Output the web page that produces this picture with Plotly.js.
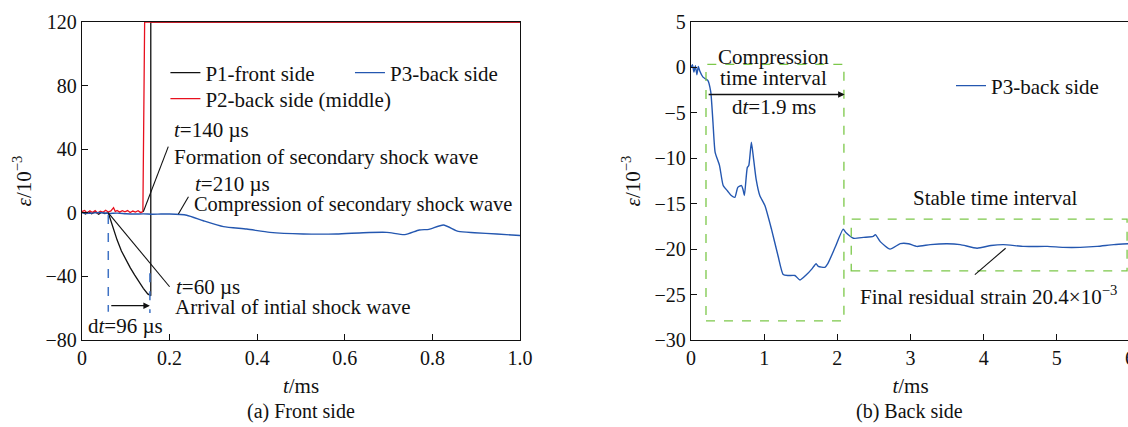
<!DOCTYPE html>
<html>
<head>
<meta charset="utf-8">
<script src="https://cdn.plot.ly/plotly-3.0.1.min.js"></script>
<style>
html,body{margin:0;padding:0;overflow:hidden;background:#fff;}
#chart{width:1140px;height:427px;}
</style>
</head>
<body>
<div id="chart"></div>
<script>
// ---- (a) Front side ----
const p1T = [0, 0.008, 0.015, 0.022, 0.03, 0.038, 0.045, 0.052, 0.06, 0.07, 0.08, 0.09, 0.1, 0.11, 0.12, 0.13, 0.14, 0.15, 0.155, 0.157, 0.157, 1.0];
const p1V = [0.5, -0.8, 0.6, -0.6, 0.7, -0.9, 0.4, -0.5, 0, -9, -17, -24, -29.5, -34.5, -39, -43.5, -47.5, -51, -52.2, -52.2, 120, 120];

const p2T = [0, 0.006, 0.012, 0.018, 0.024, 0.03, 0.036, 0.042, 0.048, 0.054, 0.06, 0.066, 0.072, 0.076, 0.08, 0.086, 0.092, 0.098, 0.104, 0.11, 0.116, 0.122, 0.128, 0.134, 0.139, 0.143, 1.0];
const p2V = [0.8, 1.5, -0.3, 1.2, 0.2, 1.4, -0.2, 1.0, 0.3, 1.6, 0.5, 1.2, 3.2, 0.8, 1.5, 0.4, 1.3, 0.6, 1.4, 0.2, 1.1, 0.5, 1.3, 0.1, 0.8, 120, 120];

const p3aT = [0, 0.02, 0.04, 0.06, 0.08, 0.1, 0.12, 0.14, 0.16, 0.18, 0.2, 0.239, 0.277, 0.323, 0.376, 0.429, 0.505, 0.581, 0.642, 0.696, 0.737, 0.77, 0.792, 0.825, 0.859, 0.896, 0.947, 1.0];
const p3aV = [0, -0.3, 0.2, -0.4, -0.2, -0.6, -0.8, -0.7, -0.9, -0.8, -0.75, -1.5, -5, -8.7, -10.2, -12.3, -13.3, -13.3, -12.5, -12.3, -13.7, -10.8, -10.4, -7.7, -11.7, -12.5, -13.3, -14.3];

// ---- (b) Back side ----
const p3bT = [0, 0.02, 0.04, 0.06, 0.08, 0.1, 0.12, 0.164, 0.23, 0.27, 0.30, 0.33, 0.39, 0.44, 0.5, 0.55, 0.6, 0.64, 0.69, 0.71, 0.73, 0.77, 0.79, 0.825, 0.85, 0.89, 0.94, 1.01, 1.1, 1.19, 1.26, 1.33, 1.42, 1.49, 1.58, 1.65, 1.71, 1.74, 1.83, 1.87, 1.97, 2.08, 2.12, 2.22, 2.36, 2.49, 2.52, 2.59, 2.72, 2.86, 2.97, 3.09, 3.27, 3.5, 3.68, 3.91, 4.1, 4.27, 4.55, 4.87, 5.09, 5.32, 5.55, 5.78, 6.0];
const p3bV = [0, 0.3, -0.5, 0.2, -0.8, 0.1, -0.4, -1.07, -1.43, -2.7, -6.0, -9.35, -10.8, -13.0, -13.6, -14.1, -14.3, -13.2, -13.0, -13.4, -14.1, -11.0, -10.8, -8.24, -9.7, -12.3, -14.1, -15.2, -17.8, -20.75, -22.8, -22.9, -22.9, -23.4, -22.8, -22.2, -21.6, -21.9, -22.0, -21.6, -19.8, -17.8, -18.2, -18.8, -18.7, -18.6, -18.4, -19.2, -20.0, -19.4, -19.4, -19.7, -19.5, -19.4, -19.5, -19.9, -19.6, -19.5, -19.7, -19.7, -19.8, -19.8, -19.7, -19.5, -19.4];

const leftXTicks = [0, 0.2, 0.4, 0.6, 0.8, 1.0];
const leftXLabels = ['0', '0.2', '0.4', '0.6', '0.8', '1.0'];
const leftYTicks = [-80, -40, 0, 40, 80, 120];
const rightXTicks = [0, 1, 2, 3, 4, 5, 6];
const rightYTicks = [-30, -25, -20, -15, -10, -5, 0, 5];

const FONT = 'Liberation Serif, Times New Roman, serif';
const BLUE = '#2457b0';
const RED = '#e8101e';
const GREEN = '#7cc84a';
const FS = 21;

const traces = [
  {x: p1T, y: p1V, xaxis: 'x', yaxis: 'y', mode: 'lines', name: 'P1-front side', showlegend: true,
   line: {color: '#111', width: 1.3}, legend: 'legend'},
  {x: p2T, y: p2V, xaxis: 'x', yaxis: 'y', mode: 'lines', name: 'P2-back side (middle)', showlegend: true,
   line: {color: RED, width: 1.3}, legend: 'legend4'},
  {x: p3aT, y: p3aV, xaxis: 'x', yaxis: 'y', mode: 'lines', name: 'P3-back side', showlegend: true,
   line: {color: BLUE, width: 1.4, shape: 'spline', smoothing: 0.6}, legend: 'legend2'},
  {x: p3bT, y: p3bV, xaxis: 'x2', yaxis: 'y2', mode: 'lines', name: 'P3-back side', showlegend: true,
   line: {color: BLUE, width: 1.4, shape: 'spline', smoothing: 0.5}, legend: 'legend3'}
];

const axisCommon = {
  showline: true, linecolor: '#111', linewidth: 1.3, mirror: true,
  ticks: 'inside', ticklen: 6, tickcolor: '#111', tickwidth: 1.2,
  showgrid: false, zeroline: false,
  tickfont: {family: FONT, size: 20, color: '#111'}
};

const legendCommon = {
  font: {family: FONT, size: FS, color: '#111'},
  bgcolor: 'rgba(0,0,0,0)', borderwidth: 0, xanchor: 'left', yanchor: 'middle',
  xref: 'paper', yref: 'paper', visible: true
};

const ann = [];
function txt(xref, yref, x, y, text, xanchor, size) {
  ann.push({xref: xref, yref: yref, x: x, y: y, text: text, showarrow: false,
    xanchor: xanchor || 'center', yanchor: 'middle',
    font: {family: FONT, size: size || FS, color: '#111'}});
}
// left annotations
txt('x', 'y', 0.205, 52.1, '<i>t</i>=140 µs', 'left');
txt('x', 'y', 0.205, 35.1, 'Formation of secondary shock wave', 'left');
txt('x', 'y', 0.253, 18.1, '<i>t</i>=210 µs', 'left');
txt('x', 'y', 0.251, 5.5, 'Compression of secondary shock wave', 'left', 20.4);
txt('x', 'y', 0.21, -46.7, '<i>t</i>=60 µs', 'left');
txt('x', 'y', 0.208, -59.4, 'Arrival of intial shock wave', 'left');
txt('x', 'y', 0.1, -71.2, 'd<i>t</i>=96 µs', 'center');
ann.push({xref: 'x', yref: 'y', x: 0.155, y: -58.4, axref: 'x', ayref: 'y', ax: 0.06, ay: -58.4,
  showarrow: true, arrowhead: 2, arrowsize: 1, arrowwidth: 1.3, arrowcolor: '#111', text: ' '});
// right annotations
txt('x2', 'y2', 1.13, 1.2, 'Compression', 'center');
txt('x2', 'y2', 1.13, -1.2, 'time interval', 'center');
txt('x2', 'y2', 1.13, -4.4, 'd<i>t</i>=1.9 ms', 'center');
txt('x2', 'y2', 4.16, -14.35, 'Stable time interval', 'center');
txt('x2', 'y2', 4.07, -25.05, 'Final residual strain 20.4×10<sup>−3</sup>', 'center');
ann.push({xref: 'x2', yref: 'y2', x: 2.1, y: -2.98, axref: 'x2', ayref: 'y2', ax: 0.2, ay: -2.98,
  showarrow: true, arrowhead: 2, arrowsize: 1, arrowwidth: 1.3, arrowcolor: '#111', text: ' '});
// captions
txt('paper', 'paper', 0.209, -0.2233, '(a) Front side', 'center', 20);
txt('paper', 'paper', 0.790, -0.2233, '(b) Back side', 'center', 20);

const shapes = [
  {type: 'line', xref: 'x', yref: 'y', x0: 0.14, y0: 0.7, x1: 0.197, y1: 41.6, line: {color: '#111', width: 1.1}},
  {type: 'line', xref: 'x', yref: 'y', x0: 0.22, y0: -0.75, x1: 0.243, y1: 10.1, line: {color: '#111', width: 1.1}},
  {type: 'line', xref: 'x', yref: 'y', x0: 0.06, y0: 0, x1: 0.2, y1: -46.5, line: {color: '#111', width: 1.1}},
  {type: 'line', xref: 'x', yref: 'y', x0: 0.06, y0: -1.4, x1: 0.06, y1: -62.2, line: {color: '#3f72c4', width: 1.5, dash: 'dash'}},
  {type: 'line', xref: 'x', yref: 'y', x0: 0.155, y0: -38, x1: 0.155, y1: -63, line: {color: '#3f72c4', width: 1.5, dash: 'dash'}},
  {type: 'rect', xref: 'x2', yref: 'y2', x0: 0.205, x1: 2.09, y0: -27.9, y1: 0.33, line: {color: GREEN, width: 1.3, dash: 'dash'}},
  {type: 'rect', xref: 'x2', yref: 'y2', x0: 2.19, x1: 5.96, y0: -22.4, y1: -16.7, line: {color: GREEN, width: 1.3, dash: 'dash'}},
  {type: 'line', xref: 'x2', yref: 'y2', x0: 4.30, y0: -19.9, x1: 3.88, y1: -22.8, line: {color: '#111', width: 1.1}}
];

const layout = {
  width: 1140, height: 427,
  showlegend: true,
  margin: {l: 82, r: 10, t: 22, b: 87},
  paper_bgcolor: '#fff', plot_bgcolor: '#fff',
  font: {family: FONT, color: '#111'},
  xaxis: Object.assign({}, axisCommon, {domain: [0, 0.418], range: [0, 1.0],
    tickvals: leftXTicks, ticktext: leftXLabels,
    title: {text: '<i>t</i>/ms', font: {family: FONT, size: 21}, standoff: 10}}),
  yaxis: Object.assign({}, axisCommon, {domain: [0, 1], range: [-80, 120],
    tickvals: leftYTicks,
    title: {text: '<i>ε</i>/10<sup>−3</sup>', font: {family: FONT, size: 21}, standoff: 8}}),
  xaxis2: Object.assign({}, axisCommon, {anchor: 'y2', domain: [0.5811, 1], range: [0, 6],
    tickvals: rightXTicks,
    title: {text: '<i>t</i>/ms', font: {family: FONT, size: 21}, standoff: 10}}),
  yaxis2: Object.assign({}, axisCommon, {anchor: 'x2', domain: [0, 1], range: [-30, 5],
    tickvals: rightYTicks,
    title: {text: '<i>ε</i>/10<sup>−3</sup>', font: {family: FONT, size: 21}, standoff: 8}}),
  legend: Object.assign({}, legendCommon, {x: 0.0796, y: 0.8396}),
  legend4: Object.assign({}, legendCommon, {x: 0.0796, y: 0.7579}),
  legend2: Object.assign({}, legendCommon, {x: 0.2557, y: 0.8396}),
  legend3: Object.assign({}, legendCommon, {x: 0.8292, y: 0.7987}),
  annotations: ann,
  shapes: shapes
};

Plotly.newPlot('chart', traces, layout, {staticPlot: true, displayModeBar: false});
</script>
</body>
</html>
